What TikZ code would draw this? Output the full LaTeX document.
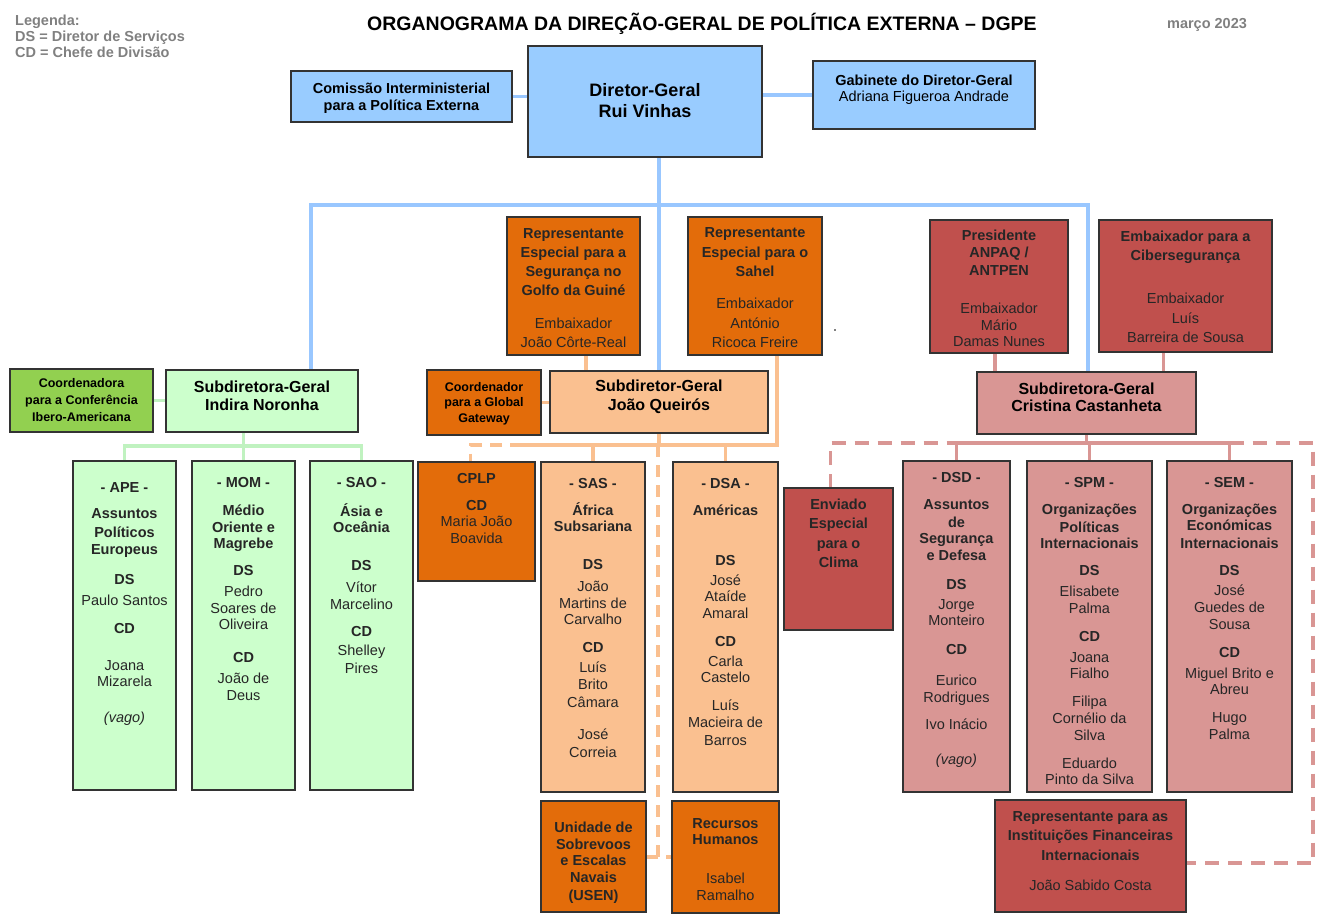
\documentclass[tikz,border=0pt]{standalone}
\usepackage{fontspec}
\setmainfont{Liberation Sans}
\definecolor{fblue}{HTML}{99CCFF}
\definecolor{lblue}{HTML}{99C7FF}
\definecolor{dgreen}{HTML}{92D050}
\definecolor{lgreen}{HTML}{CCFFCC}
\definecolor{lgline}{HTML}{C0F2C0}
\definecolor{dorange}{HTML}{E36C0A}
\definecolor{lorange}{HTML}{FAC090}
\definecolor{dred}{HTML}{C0504D}
\definecolor{pink}{HTML}{D99694}
\definecolor{legray}{HTML}{808080}
\newcommand\fs[2]{\fontsize{#1}{#2}\selectfont}
\newcommand\bx[6]{\node[box,#2,minimum width={(#5-#3)*1pt},minimum height={(#6-#4)*1pt}] (#1) at (#3,#4) {};}
\newcommand\tx[5]{\node[txt,font=#4] (#1) at (#2,#3) {#5};}
\newcommand\cx[5]{\node[ctxt,font=#4] (#1) at (#2,#3) {#5};}
\pgfdeclarelayer{bg}
\pgfsetlayers{bg,main}
\begin{document}
\begin{tikzpicture}[x=1pt,y=-1pt,
  box/.style={draw=black!80, line width=1.3pt, inner sep=0pt, outer sep=0pt, anchor=north west},
  txt/.style={anchor=north, inner sep=0pt, align=center, text=black!85},
  ctxt/.style={anchor=center, inner sep=0pt, align=center, text=black},
  bl/.style={draw=lblue, line width=3.4pt},
  gl/.style={draw=lgline, line width=3.4pt},
  ol/.style={draw=lorange, line width=3.4pt},
  old/.style={draw=lorange, line width=3.4pt, dash pattern=on 12pt off 8pt},
  rl/.style={draw=pink, line width=3.4pt},
  rld/.style={draw=pink, line width=3.4pt, dash pattern=on 14pt off 9pt}]
\useasboundingbox (0,0) rectangle (1324,921);

% header
\node[anchor=north west, align=left, inner sep=0pt, font=\bfseries\fs{14.5}{16}, text=legray] (leg) at (15,15) {Legenda:\\DS = Diretor de Serviços\\CD = Chefe de Divisão};
\node[font=\bfseries\fs{19.5}{22}, inner sep=0pt] (title) at (702,24) {ORGANOGRAMA DA DIREÇÃO-GERAL DE POLÍTICA EXTERNA – DGPE};
\node[font=\bfseries\fs{14.5}{16}, text=legray, inner sep=0pt] (date) at (1207,25) {março 2023};

% boxes
\bx{com}{fill=fblue}{291}{71}{512}{122}
\bx{dg}{fill=fblue}{528}{46}{762}{157}
\bx{gab}{fill=fblue}{813}{61}{1035}{129}
\bx{coo}{fill=dgreen}{10}{369}{153}{432}
\bx{ind}{fill=lgreen}{166}{370}{358}{432}
\bx{ape}{fill=lgreen}{73}{461}{176}{790}
\bx{mom}{fill=lgreen}{192}{461}{295}{790}
\bx{sao}{fill=lgreen}{310}{461}{413}{790}
\bx{gol}{fill=dorange}{507}{217}{640}{355}
\bx{sah}{fill=dorange}{688}{217}{822}{355}
\bx{gtw}{fill=dorange}{427}{370}{541}{435}
\bx{qu}{fill=lorange}{550}{371}{768}{433}
\bx{cplp}{fill=dorange}{418}{462}{535}{581}
\bx{sas}{fill=lorange}{541}{462}{645}{792}
\bx{dsa}{fill=lorange}{673}{462}{778}{792}
\bx{usen}{fill=dorange}{541}{801}{646}{912}
\bx{rh}{fill=dorange}{672}{801}{779}{913}
\bx{anp}{fill=dred}{930}{220}{1068}{353}
\bx{cib}{fill=dred}{1099}{220}{1272}{352}
\bx{cas}{fill=pink}{977}{372}{1196}{434}
\bx{env}{fill=dred}{784}{488}{893}{630}
\bx{dsd}{fill=pink}{903}{461}{1010}{792}
\bx{spm}{fill=pink}{1027}{461}{1152}{792}
\bx{sem}{fill=pink}{1167}{461}{1292}{792}
\bx{ifi}{fill=dred}{995}{800}{1186}{912}

% short box texts
\cx{comt}{401.5}{98.5}{\bfseries\fs{14.5}{17}}{Comissão Interministerial\\para a Política Externa}
\cx{dgt}{645}{100.5}{\bfseries\fs{18}{21}}{Diretor-Geral\\Rui Vinhas}
\cx{gabt}{924}{90}{\fs{14.5}{16}}{\textbf{Gabinete do Diretor-Geral}\\Adriana Figueroa Andrade}
\cx{coot}{81.5}{400}{\bfseries\fs{12.5}{17}}{Coordenadora\\para a Conferência\\Ibero-Americana}
\cx{indt}{262}{396}{\bfseries\fs{16}{18}}{Subdiretora-Geral\\Indira Noronha}
\cx{gtwt}{484}{403.5}{\bfseries\fs{12.5}{15.5}}{Coordenador\\para a Global\\Gateway}
\cx{qut}{659}{396.5}{\bfseries\fs{16}{19}}{Subdiretor-Geral\\João Queirós}
\cx{cast}{1086.5}{397.5}{\bfseries\fs{16}{17}}{Subdiretora-Geral\\Cristina Castanheta}

% tall box texts
\tx{golt}{573.5}{228}{\fs{14.5}{16.5}}{\textbf{Representante}\\[2.5pt]\textbf{Especial para a}\\[2.5pt]\textbf{Segurança no}\\[2.5pt]\textbf{Golfo da Guiné}\\[16.5pt]Embaixador\\[2.5pt]João Côrte-Real}
\tx{saht}{755}{227}{\fs{14.5}{16.5}}{\textbf{Representante}\\[3.5pt]\textbf{Especial para o}\\[2.5pt]\textbf{Sahel}\\[15.5pt]Embaixador\\[3.5pt]António\\[2.5pt]Ricoca Freire}
\tx{anpt}{999}{230}{\fs{14.5}{16.5}}{\textbf{Presidente}\\[0.5pt]\textbf{ANPAQ /}\\[1.5pt]\textbf{ANTPEN}\\[21.5pt]Embaixador\\Mário\\Damas Nunes}
\tx{cibt}{1185.5}{231}{\fs{14.5}{16.5}}{\textbf{Embaixador para a}\\[2.5pt]\textbf{Cibersegurança}\\[26.5pt]Embaixador\\[3.5pt]Luís\\[2.5pt]Barreira de Sousa}
\tx{apet}{124.5}{482}{\fs{14.5}{16.5}}{\textbf{- APE -}\\[10pt]\textbf{Assuntos}\\[2.5pt]\textbf{Políticos}\\\textbf{Europeus}\\[13.5pt]\textbf{DS}\\[4.5pt]Paulo Santos\\[11.5pt]\textbf{CD}\\[20.5pt]Joana\\Mizarela\\[19.5pt]\textit{(vago)}}
\tx{momt}{243.5}{477}{\fs{14.5}{16.5}}{\textbf{- MOM -}\\[11.5pt]\textbf{Médio}\\[0.5pt]\textbf{Oriente e}\\\textbf{Magrebe}\\[10.5pt]\textbf{DS}\\[4.5pt]Pedro\\Soares de\\Oliveira\\[16.5pt]\textbf{CD}\\[4.5pt]João de\\Deus}
\tx{saot}{361.5}{477}{\fs{14.5}{16.5}}{\textbf{- SAO -}\\[12.5pt]\textbf{Ásia e}\\\textbf{Oceânia}\\[21.5pt]\textbf{DS}\\[5.5pt]Vítor\\Marcelino\\[10.5pt]\textbf{CD}\\[2.5pt]Shelley\\[1.5pt]Pires}
\tx{cplpt}{476.5}{473}{\fs{14.5}{16.5}}{\textbf{CPLP}\\[10.5pt]\textbf{CD}\\Maria João\\Boavida}
\tx{sast}{593}{478}{\fs{14.5}{16.5}}{\textbf{- SAS -}\\[10.5pt]\textbf{África}\\\textbf{Subsariana}\\[21.5pt]\textbf{DS}\\[5.5pt]João\\Martins de\\Carvalho\\[11.5pt]\textbf{CD}\\[3.5pt]Luís\\Brito\\[1.5pt]Câmara\\[15.5pt]José\\[1.5pt]Correia}
\tx{dsat}{725.5}{478}{\fs{14.5}{16.5}}{\textbf{- DSA -}\\[10.5pt]\textbf{Américas}\\[33.5pt]\textbf{DS}\\[3.5pt]José\\Ataíde\\Amaral\\[11.5pt]\textbf{CD}\\[3.5pt]Carla\\Castelo\\[11.5pt]Luís\\Macieira de\\[1.5pt]Barros}
\tx{usent}{593.5}{822}{\bfseries\fs{14.5}{16.5}}{Unidade de\\Sobrevoos\\e Escalas\\Navais\\[1.5pt](USEN)}
\tx{rht}{725.5}{818}{\fs{14.5}{16.5}}{\textbf{Recursos}\\\textbf{Humanos}\\[22.5pt]Isabel\\Ramalho}
\tx{envt}{838.5}{499}{\bfseries\fs{14.5}{16.5}}{Enviado\\[2.5pt]Especial\\[3.5pt]para o\\[2.5pt]Clima}
\tx{dsdt}{956.5}{472}{\fs{14.5}{16.5}}{\textbf{- DSD -}\\[10.5pt]\textbf{Assuntos}\\[1.5pt]\textbf{de}\\\textbf{Segurança}\\\textbf{e Defesa}\\[12.5pt]\textbf{DS}\\[3.5pt]Jorge\\Monteiro\\[12.5pt]\textbf{CD}\\[14.5pt]Eurico\\Rodrigues\\[10.5pt]Ivo Inácio\\[18.5pt]\textit{(vago)}}
\tx{spmt}{1089.5}{477}{\fs{14.5}{16.5}}{\textbf{- SPM -}\\[10.5pt]\textbf{Organizações}\\[1.5pt]\textbf{Políticas}\\\textbf{Internacionais}\\[10.5pt]\textbf{DS}\\[4.5pt]Elisabete\\Palma\\[11.5pt]\textbf{CD}\\[4.5pt]Joana\\Fialho\\[11.5pt]Filipa\\Cornélio da\\[0.5pt]Silva\\[11.5pt]Eduardo\\Pinto da Silva}
\tx{semt}{1229.5}{477}{\fs{14.5}{16.5}}{\textbf{- SEM -}\\[10.5pt]\textbf{Organizações}\\\textbf{Económicas}\\[1.5pt]\textbf{Internacionais}\\[10.5pt]\textbf{DS}\\[3.5pt]José\\[0.5pt]Guedes de\\Sousa\\[11.5pt]\textbf{CD}\\[4.5pt]Miguel Brito e\\Abreu\\[11.5pt]Hugo\\[0.5pt]Palma}
\tx{ifit}{1090.5}{811}{\fs{14.5}{16.5}}{\textbf{Representante para as}\\[2.5pt]\textbf{Instituições Financeiras}\\[3.5pt]\textbf{Internacionais}\\[13.5pt]João Sabido Costa}

\fill (835,330) circle (0.8);

% connectors
\begin{pgfonlayer}{bg}
\coordinate (bL) at (311,205);
\coordinate (bR) at (1088,205);
\draw[bl] (com.east) -- (com.east -| dg.west);
\draw[bl] (gab.west) -- (gab.west -| dg.east);
\draw[bl] (qu.north) -- (qu.north |- dg.south);
\draw[bl] (bL |- ind.north) -- (bL) -- (bR) -- (bR |- cas.north);
% green
\coordinate (gb) at (0,446);
\draw[gl] (coo.east) -- (coo.east -| ind.west);
\draw[gl] (mom.north |- ind.south) -- (mom.north);
\draw[gl] (ape.north) -- (ape.north |- gb) -- (sao.north |- gb) -- (sao.north);
% orange
\coordinate (ob) at (0,445);
\coordinate (obL) at (522,445);
\coordinate (ov) at (658,445);
\coordinate (ovb) at (658,857);
\draw[ol] ([xshift=12.5pt]gol.south) -- ([xshift=12.5pt]gol.south |- qu.north);
\draw[ol] (gtw.east) -- (gtw.east -| qu.west);
\draw[ol] (qu.south) -- (qu.south |- ob);
\draw[ol] ([xshift=22pt]sah.south) |- (obL);
\draw[ol] (sas.north) -- (sas.north |- ob);
\draw[ol] (dsa.north) -- (dsa.north |- ob);
\draw[old] (obL) -| ([xshift=-6pt]cplp.north);
\draw[old] (ov) -- (ovb);
\draw[old] (usen.east |- ovb) -- (rh.west |- ovb);
% red
\coordinate (rb) at (0,443);
\coordinate (rdR) at (1313,443);
\coordinate (rdB) at (1313,863);
\draw[rl] ([xshift=-4pt]anp.south) -- ([xshift=-4pt]anp.south |- cas.north);
\draw[rl] ([xshift=-22pt]cib.south) -- ([xshift=-22pt]cib.south |- cas.north);
\draw[rl] (cas.south) -- (cas.south |- rb);
\draw[rl] (dsd.north) |- (sem.north |- rb) -- (sem.north);
\draw[rl] (spm.north) -- (spm.north |- rb);
\draw[rld] ([xshift=-8pt]env.north) |- (dsd.north |- rb);
\draw[rld] (sem.north |- rb) -- (rdR) -- (rdB) -- (ifi.east |- rdB);
\end{pgfonlayer}
\end{tikzpicture}
\end{document}
